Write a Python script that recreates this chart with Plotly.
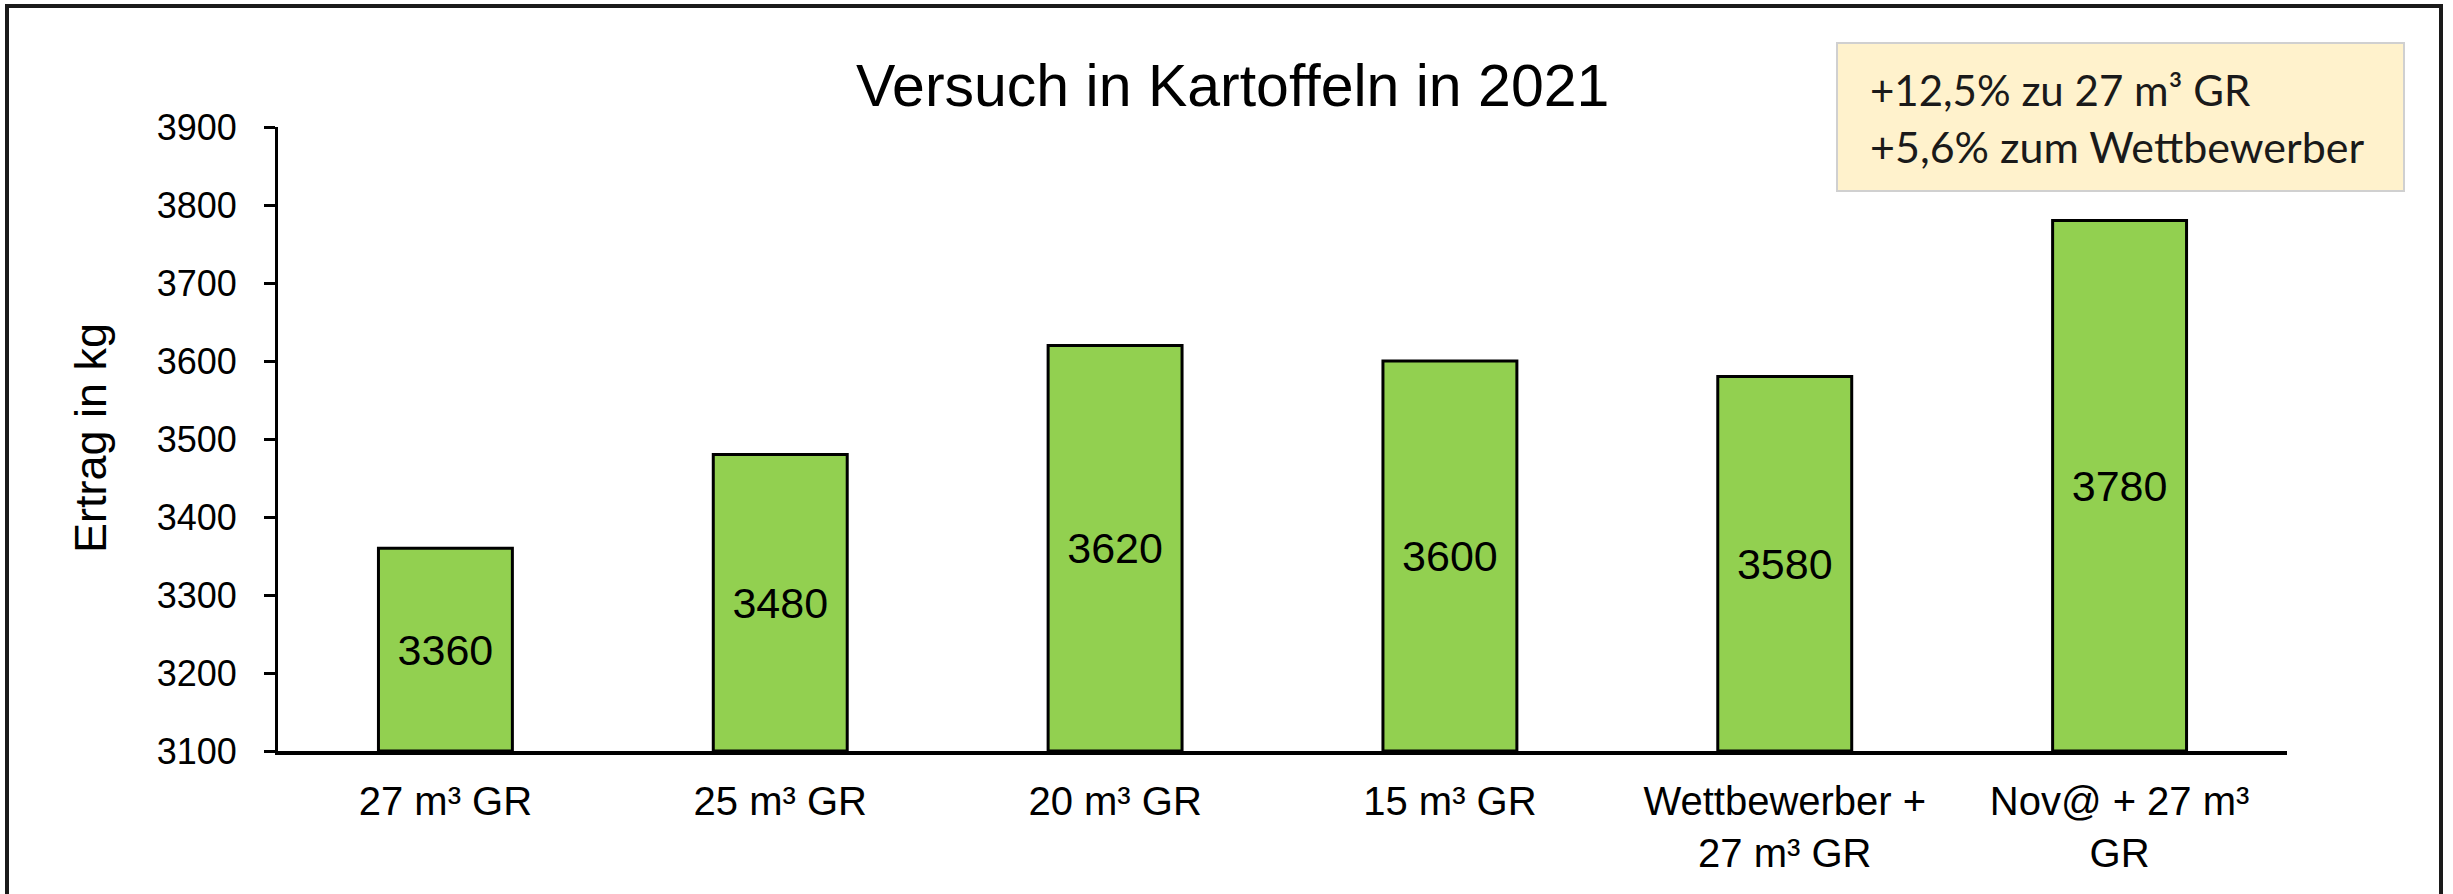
import plotly.graph_objects as go

# ---- data ----
categories = ["27 m³ GR", "25 m³ GR", "20 m³ GR", "15 m³ GR",
              "Wettbewerber +<br>27 m³ GR", "Nov@ + 27 m³<br>GR"]
ertrag = [3360, 3480, 3620, 3600, 3580, 3780]
y_min, y_max, y_step = 3100, 3900, 100
title_text = "Versuch in Kartoffeln in 2021"
y_title = "Ertrag in kg"
note_lines = ["+12,5% zu 27 m³ GR", "+5,6% zum Wettbewerber"]

# ---- layout geometry (pixels) ----
W, H = 2453, 894
L, R, T, B = 278, 2287, 127, 751   # plot area edges in pixels

def px(x):
    return (x - L) / (R - L)

def py(y):
    return (B - y) / (B - T)

FONT = "Arial, Liberation Sans, sans-serif"
NOTE_FONT = "Lato, Carlito, sans-serif"
GREEN = "#92D050"

fig = go.Figure()
fig.add_trace(go.Bar(
    x=categories,
    y=[v - y_min for v in ertrag],
    base=y_min,
    width=0.4,
    marker=dict(color=GREEN, line=dict(color="#000000", width=3)),
    text=[str(v) for v in ertrag],
    textposition="inside",
    insidetextanchor="middle",
    textfont=dict(family=FONT, size=43, color="#000000"),
    cliponaxis=False,
))

fig.update_layout(
    width=W, height=H,
    margin=dict(l=L, r=W - R, t=T, b=H - B, pad=0),
    paper_bgcolor="white", plot_bgcolor="white",
    showlegend=False,
    uniformtext=dict(mode=False),
)

fig.update_xaxes(
    showgrid=False, zeroline=False,
    showline=True, linecolor="#000000", linewidth=4,
    ticks="", tickfont=dict(family=FONT, size=40, color="#000000"),
    ticklabelstandoff=12,
)
fig.update_yaxes(
    range=[y_min, y_max], dtick=y_step, tick0=y_min,
    showgrid=False, zeroline=False,
    showline=True, linecolor="#000000", linewidth=3,
    ticks="outside", ticklen=11, tickwidth=3, tickcolor="#000000",
    tickfont=dict(family=FONT, size=36, color="#000000"),
    ticklabelstandoff=20,
)

shapes = [
    # outer frame
    dict(type="rect", xref="paper", yref="paper",
         x0=px(7), x1=px(2441), y0=py(960), y1=py(6),
         line=dict(color="#1a1a1a", width=4), fillcolor="rgba(0,0,0,0)", layer="below"),
    # note box
    dict(type="rect", xref="paper", yref="paper",
         x0=px(1837), x1=px(2404), y0=py(191), y1=py(43),
         line=dict(color="#d0d0d0", width=2), fillcolor="#FFF2CC", layer="above"),
]
fig.update_layout(shapes=shapes)

annotations = [
    dict(text=title_text, xref="paper", yref="paper",
         x=px(1232), y=py(86), xanchor="center", yanchor="middle",
         showarrow=False, font=dict(family=FONT, size=59, color="#000000")),
    dict(text=y_title, xref="paper", yref="paper", textangle=-90,
         x=px(90), y=py(438), xanchor="center", yanchor="middle",
         showarrow=False, font=dict(family=FONT, size=45, color="#000000")),
    dict(text=note_lines[0], xref="paper", yref="paper",
         x=px(1868), y=py(90), xanchor="left", yanchor="middle",
         showarrow=False, font=dict(family=NOTE_FONT, size=42, color="#1a1a1a")),
    dict(text=note_lines[1], xref="paper", yref="paper",
         x=px(1868), y=py(146), xanchor="left", yanchor="middle",
         showarrow=False, font=dict(family=NOTE_FONT, size=43, color="#1a1a1a")),
]
fig.update_layout(annotations=annotations)

fig.write_html(
    "out.html",
    config={"displayModeBar": False},
    post_script="document.body.style.margin='0';document.body.style.overflow='hidden';",
)
